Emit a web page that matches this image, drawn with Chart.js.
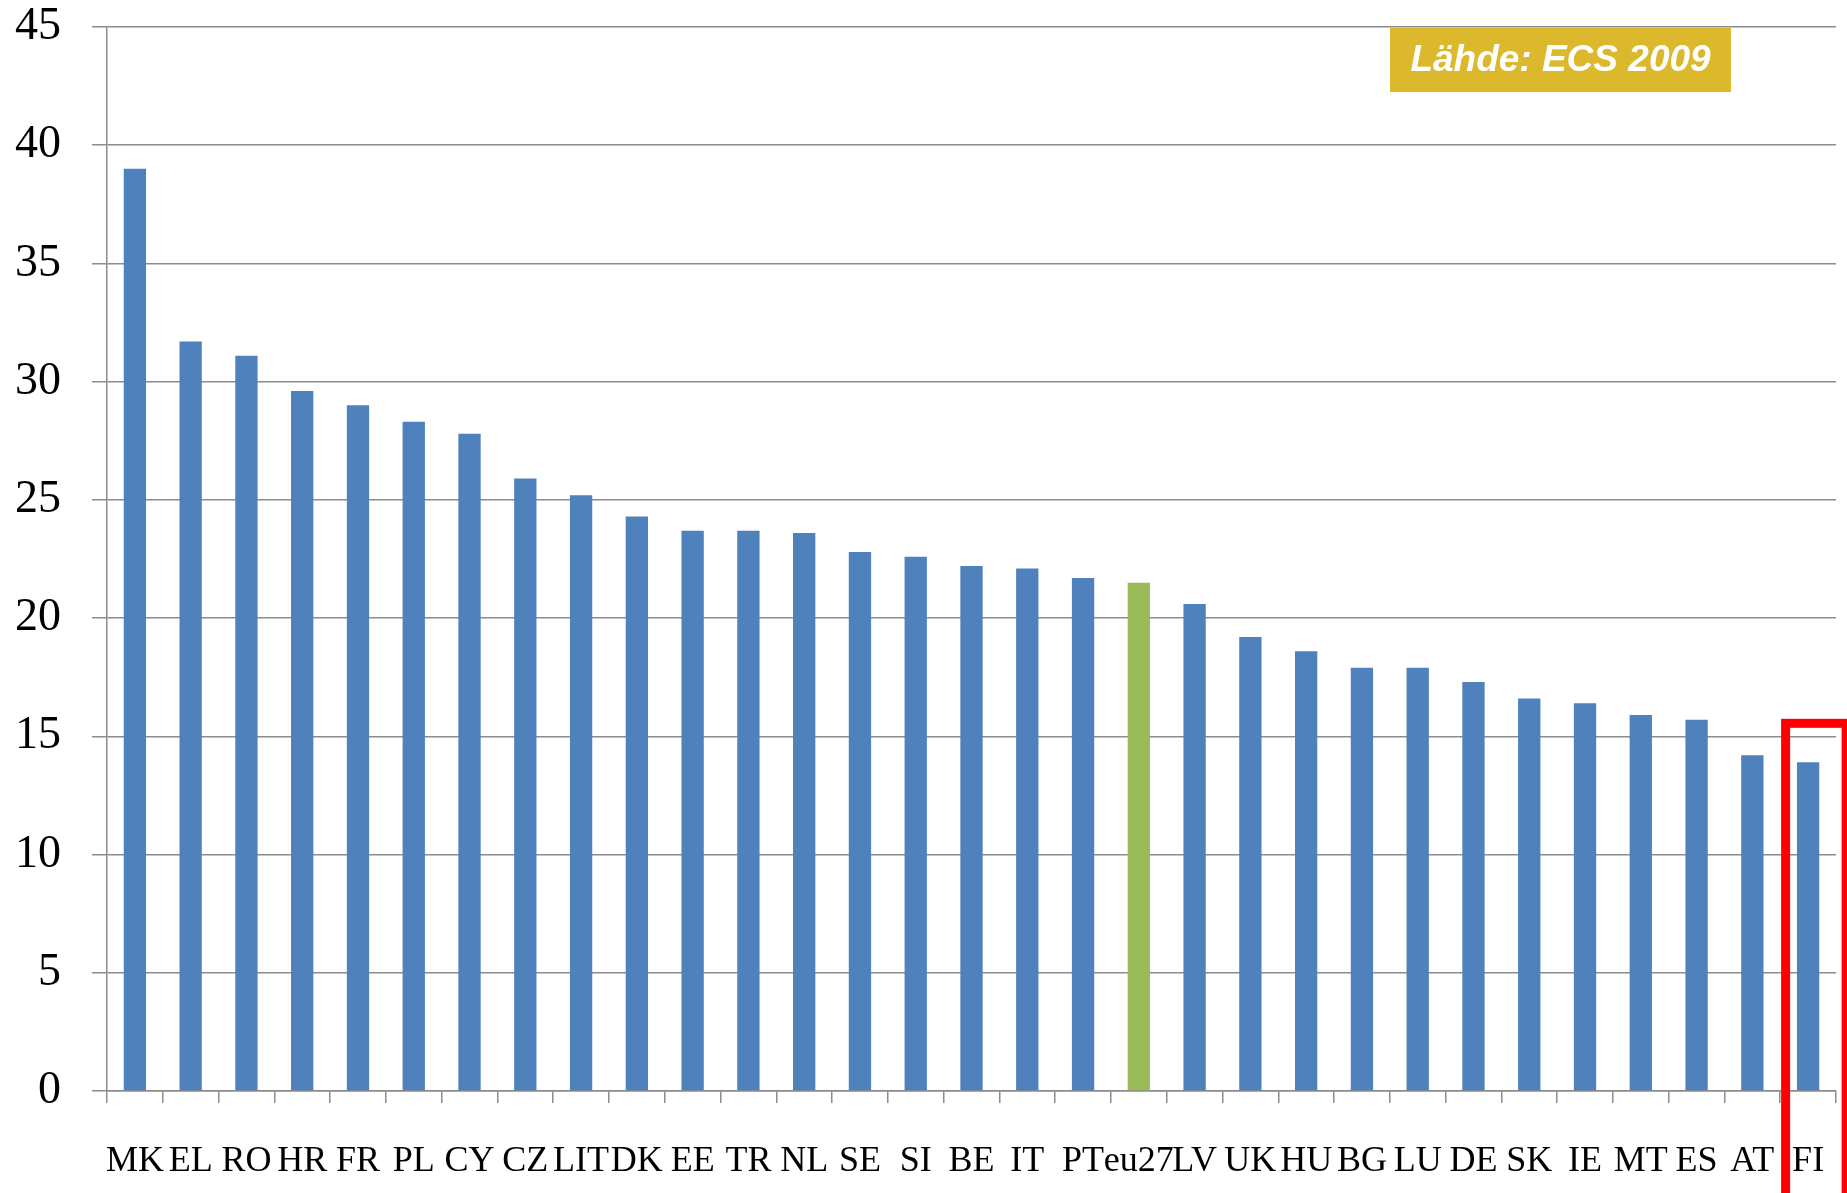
<!DOCTYPE html>
<html lang="fi">
<head>
<meta charset="utf-8">
<title>ECS 2009</title>
<script src="https://cdn.jsdelivr.net/npm/chart.js@4/dist/chart.umd.min.js"></script>
<style>
  html, body { margin: 0; padding: 0; background: #fff; }
  #wrap { width: 1847px; height: 1193px; }
</style>
</head>
<body>
<div id="wrap"><canvas id="kaavio"></canvas></div>
<script>
// Maat ja arvot (%)
const maat = ["MK", "EL", "RO", "HR", "FR", "PL", "CY", "CZ", "LIT", "DK", "EE", "TR", "NL", "SE", "SI",
  "BE", "IT", "PT", "eu27", "LV", "UK", "HU", "BG", "LU", "DE", "SK", "IE", "MT", "ES", "AT", "FI"];
const arvot = [39.0, 31.7, 31.1, 29.6, 29.0, 28.3, 27.8, 25.9, 25.2, 24.3, 23.7, 23.7, 23.6, 22.8, 22.6,
  22.2, 22.1, 21.7, 21.5, 20.6, 19.2, 18.6, 17.9, 17.9, 17.3, 16.6, 16.4, 15.9, 15.7, 14.2, 13.9];
const yMin = 0;
const yMax = 45;
const yAskel = 5;
const lahde = "Lähde: ECS 2009";
const korostettu = "FI";

const sininen = "#4F81BD";
const vihrea = "#9BBB59";
const harmaa = "#8C8C8C";

const palkkiVarit = maat.map(m => m === "eu27" ? vihrea : sininen);

// Lähdelaatikko oikeaan yläkulmaan
const lahdePlugin = {
  id: "lahde",
  afterDraw(chart) {
    const ctx = chart.ctx;
    const a = chart.chartArea;
    const w = 341, h = 64;
    const x = a.right - 446, y = a.top + 1;
    ctx.save();
    ctx.fillStyle = "#DBB82C";
    ctx.fillRect(x, y, w, h);
    ctx.fillStyle = "#fff";
    ctx.font = "italic bold 37px 'Liberation Sans', Arial, sans-serif";
    ctx.textAlign = "center";
    ctx.textBaseline = "middle";
    ctx.fillText(lahde, x + w / 2, y + h / 2 + 1);
    ctx.restore();
  }
};

// Punainen kehys korostetun maan ympärille
const kehysPlugin = {
  id: "kehys",
  afterDraw(chart) {
    const i = maat.indexOf(korostettu);
    if (i < 0) return;
    const ctx = chart.ctx;
    const xs = chart.scales.x, ys = chart.scales.y;
    const cx = xs.getPixelForValue(i);
    const yl = ys.getPixelForValue(15) - 13;
    ctx.save();
    ctx.strokeStyle = "#FF0000";
    ctx.lineWidth = 9;
    ctx.strokeRect(cx - 22.5, yl, 60.5, chart.height);
    ctx.restore();
  }
};

new Chart(document.getElementById("kaavio"), {
  type: "bar",
  data: {
    labels: maat,
    datasets: [{
      data: arvot,
      backgroundColor: palkkiVarit,
      borderWidth: 0,
      barPercentage: 0.4,
      categoryPercentage: 1.0
    }]
  },
  options: {
    responsive: true,
    maintainAspectRatio: false,
    animation: false,
    layout: { padding: { top: 27, right: 11, left: 0, bottom: 0 } },
    plugins: {
      legend: { display: false },
      tooltip: { enabled: false }
    },
    scales: {
      x: {
        grid: {
          drawOnChartArea: false,
          drawTicks: true,
          tickLength: 12,
          color: harmaa,
          lineWidth: 1.5
        },
        border: { display: true, color: harmaa, width: 1.5 },
        ticks: {
          autoSkip: false,
          maxRotation: 0,
          minRotation: 0,
          padding: 37,
          color: "#000",
          font: { family: "'Liberation Serif', 'DejaVu Serif', serif", size: 36 }
        },
        afterFit: s => {
          s.height = 102;
          s.paddingLeft = 0;
          s.paddingRight = 0;
        }
      },
      y: {
        min: yMin,
        max: yMax,
        grid: {
          color: harmaa,
          lineWidth: 1.5,
          drawTicks: true,
          tickLength: 15
        },
        border: { display: true, color: harmaa, width: 1.5 },
        ticks: {
          stepSize: yAskel,
          padding: 31,
          color: "#000",
          font: { family: "'Liberation Serif', 'DejaVu Serif', serif", size: 46 }
        },
        afterFit: s => {
          s.width = 107;
          s.paddingTop = 0;
          s.paddingBottom = 0;
        }
      }
    }
  },
  plugins: [lahdePlugin, kehysPlugin]
});
</script>
</body>
</html>
